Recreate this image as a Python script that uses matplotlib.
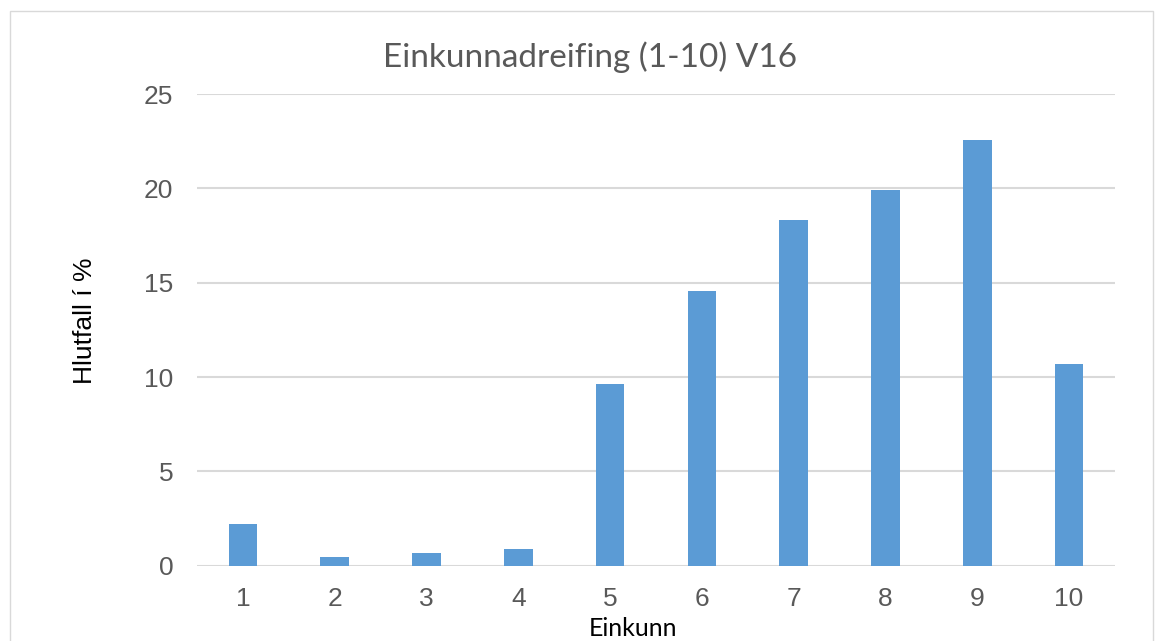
import matplotlib
matplotlib.use("Agg")
import matplotlib.pyplot as plt
from matplotlib.patches import Rectangle

categories = ["1", "2", "3", "4", "5", "6", "7", "8", "9", "10"]
values = [2.21, 0.44, 0.66, 0.88, 9.61, 14.54, 18.34, 19.89, 22.56, 10.70]
yticks = [0, 5, 10, 15, 20, 25]

plt.rcParams['font.family'] = ['Liberation Sans', 'DejaVu Sans']

fig = plt.figure(figsize=(11.63, 6.41), dpi=100)
fig.patch.set_facecolor('white')
# outer chart border
fig.patches.append(Rectangle((10/1163, -0.05), (1153-10)/1163, 1.05 - 11/641,
                             transform=fig.transFigure, fill=False,
                             edgecolor='#d9d9d9', linewidth=1.0))

ax = fig.add_axes([197/1163, 1-565.7/641, (1115-197)/1163, (565.7-94)/641])
x = list(range(1, len(categories) + 1))
ax.bar(x, values, width=0.31, color='#5b9bd5', zorder=3)
ax.set_xlim(0.5, 10.5)
ax.set_ylim(0, 25)
ax.set_yticks(yticks)
ax.set_xticks(x)
ax.set_xticklabels(categories)
for s in ax.spines.values():
    s.set_visible(False)
ax.grid(axis='y', color='#d9d9d9', linewidth=1.5, zorder=0)
ax.set_axisbelow(True)
ax.tick_params(axis='both', length=0, labelsize=19, labelcolor='#595959')
ax.tick_params(axis='y', pad=17)
ax.tick_params(axis='x', pad=15)

fig.text(590/1163, 1-57/641, "Einkunnadreifing (1-10) V16", ha='center', va='center',
         fontsize=24, color='#595959', family=['Lato', 'DejaVu Sans'])
fig.text(85/1163, 1-321/641, "Hlutfall í %", ha='center', va='center', rotation=90,
         fontsize=19, color='black')
fig.text(633/1163, 1-628/641, "Einkunn", ha='center', va='center',
         fontsize=18, color='black', family=['Lato', 'DejaVu Sans'])

fig.savefig("out.png", dpi=100, facecolor='white')
